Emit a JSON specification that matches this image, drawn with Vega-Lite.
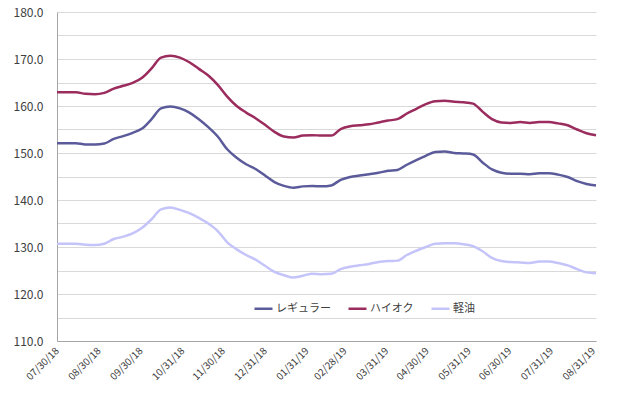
{
  "$schema": "https://vega.github.io/schema/vega-lite/v6.json",
  "width": 539,
  "height": 329,
  "autosize": "none",
  "padding": {"left": 57, "top": 12, "right": 44, "bottom": 74},
  "background": "white",
  "config": {
    "view": {"stroke": null},
    "font": "Noto Sans CJK JP",
    "axis": {"labelFont": "Noto Sans CJK JP", "labelColor": "#404040", "ticks": false, "gridColor": "#d9d9d9", "domainColor": "#a6a6a6"}
  },
  "data": {
    "values": [
      {"d": "2018-07-30", "レギュラー": 152.1, "ハイオク": 162.9, "軽油": 130.7},
      {"d": "2018-08-06", "レギュラー": 152.1, "ハイオク": 162.9, "軽油": 130.7},
      {"d": "2018-08-13", "レギュラー": 152.1, "ハイオク": 162.9, "軽油": 130.7},
      {"d": "2018-08-20", "レギュラー": 151.8, "ハイオク": 162.6, "軽油": 130.5},
      {"d": "2018-08-27", "レギュラー": 151.8, "ハイオク": 162.5, "軽油": 130.4},
      {"d": "2018-09-03", "レギュラー": 152.0, "ハイオク": 162.8, "軽油": 130.7},
      {"d": "2018-09-10", "レギュラー": 153.0, "ハイオク": 163.7, "軽油": 131.7},
      {"d": "2018-09-17", "レギュラー": 153.6, "ハイオク": 164.3, "軽油": 132.2},
      {"d": "2018-09-24", "レギュラー": 154.3, "ハイオク": 164.9, "軽油": 132.9},
      {"d": "2018-10-01", "レギュラー": 155.2, "ハイオク": 166.0, "軽油": 134.1},
      {"d": "2018-10-08", "レギュラー": 157.2, "ハイオク": 168.0, "軽油": 135.9},
      {"d": "2018-10-15", "レギュラー": 159.5, "ハイオク": 170.3, "軽油": 138.0},
      {"d": "2018-10-22", "レギュラー": 159.9, "ハイオク": 170.7, "軽油": 138.4},
      {"d": "2018-10-29", "レギュラー": 159.5, "ハイオク": 170.3, "軽油": 137.9},
      {"d": "2018-11-05", "レギュラー": 158.6, "ハイオク": 169.3, "軽油": 137.2},
      {"d": "2018-11-12", "レギュラー": 157.2, "ハイオク": 167.9, "軽油": 136.2},
      {"d": "2018-11-19", "レギュラー": 155.5, "ハイオク": 166.5, "軽油": 135.0},
      {"d": "2018-11-26", "レギュラー": 153.5, "ハイオク": 164.5, "軽油": 133.4},
      {"d": "2018-12-03", "レギュラー": 150.8, "ハイオク": 162.0, "軽油": 131.0},
      {"d": "2018-12-10", "レギュラー": 149.0, "ハイオク": 160.0, "軽油": 129.5},
      {"d": "2018-12-17", "レギュラー": 147.6, "ハイオク": 158.6, "軽油": 128.3},
      {"d": "2018-12-24", "レギュラー": 146.6, "ハイオク": 157.4, "軽油": 127.3},
      {"d": "2018-12-31", "レギュラー": 145.2, "ハイオク": 156.0, "軽油": 126.0},
      {"d": "2019-01-07", "レギュラー": 143.8, "ハイオク": 154.5, "軽油": 124.7},
      {"d": "2019-01-14", "レギュラー": 143.0, "ハイオク": 153.5, "軽油": 124.0},
      {"d": "2019-01-21", "レギュラー": 142.6, "ハイオク": 153.3, "軽油": 123.5},
      {"d": "2019-01-28", "レギュラー": 142.9, "ハイオク": 153.7, "軽油": 123.9},
      {"d": "2019-02-04", "レギュラー": 143.0, "ハイオク": 153.8, "軽油": 124.3},
      {"d": "2019-02-11", "レギュラー": 142.9, "ハイオク": 153.7, "軽油": 124.2},
      {"d": "2019-02-18", "レギュラー": 143.1, "ハイオク": 153.7, "軽油": 124.3},
      {"d": "2019-02-25", "レギュラー": 144.3, "ハイオク": 155.1, "軽油": 125.3},
      {"d": "2019-03-04", "レギュラー": 144.9, "ハイオク": 155.7, "軽油": 125.8},
      {"d": "2019-03-11", "レギュラー": 145.2, "ハイオク": 155.9, "軽油": 126.1},
      {"d": "2019-03-18", "レギュラー": 145.5, "ハイオク": 156.1, "軽油": 126.4},
      {"d": "2019-03-25", "レギュラー": 145.8, "ハイオク": 156.5, "軽油": 126.8},
      {"d": "2019-04-01", "レギュラー": 146.2, "ハイオク": 156.9, "軽油": 127.0},
      {"d": "2019-04-08", "レギュラー": 146.4, "ハイオク": 157.2, "軽油": 127.1},
      {"d": "2019-04-15", "レギュラー": 147.5, "ハイオク": 158.4, "軽油": 128.3},
      {"d": "2019-04-22", "レギュラー": 148.5, "ハイオク": 159.4, "軽油": 129.2},
      {"d": "2019-04-29", "レギュラー": 149.4, "ハイオク": 160.4, "軽油": 130.0},
      {"d": "2019-05-06", "レギュラー": 150.2, "ハイオク": 161.0, "軽油": 130.7},
      {"d": "2019-05-13", "レギュラー": 150.3, "ハイオク": 161.1, "軽油": 130.8},
      {"d": "2019-05-20", "レギュラー": 150.0, "ハイオク": 160.9, "軽油": 130.8},
      {"d": "2019-05-27", "レギュラー": 149.9, "ハイオク": 160.8, "軽油": 130.6},
      {"d": "2019-06-03", "レギュラー": 149.7, "ハイオク": 160.5, "軽油": 130.2},
      {"d": "2019-06-10", "レギュラー": 148.0, "ハイオク": 158.8, "軽油": 129.1},
      {"d": "2019-06-17", "レギュラー": 146.5, "ハイオク": 157.2, "軽油": 127.7},
      {"d": "2019-06-24", "レギュラー": 145.8, "ハイオク": 156.5, "軽油": 127.0},
      {"d": "2019-07-01", "レギュラー": 145.6, "ハイオク": 156.4, "軽油": 126.8},
      {"d": "2019-07-08", "レギュラー": 145.6, "ハイオク": 156.6, "軽油": 126.7},
      {"d": "2019-07-15", "レギュラー": 145.5, "ハイオク": 156.4, "軽油": 126.6},
      {"d": "2019-07-22", "レギュラー": 145.7, "ハイオク": 156.6, "軽油": 126.9},
      {"d": "2019-07-29", "レギュラー": 145.7, "ハイオク": 156.6, "軽油": 126.9},
      {"d": "2019-08-05", "レギュラー": 145.4, "ハイオク": 156.3, "軽油": 126.6},
      {"d": "2019-08-12", "レギュラー": 144.9, "ハイオク": 155.9, "軽油": 126.1},
      {"d": "2019-08-19", "レギュラー": 144.0, "ハイオク": 155.0, "軽油": 125.3},
      {"d": "2019-08-26", "レギュラー": 143.4, "ハイオク": 154.2, "軽油": 124.6},
      {"d": "2019-09-02", "レギュラー": 143.1, "ハイオク": 153.8, "軽油": 124.4}
    ]
  },
  "transform": [{"fold": ["レギュラー", "ハイオク", "軽油"], "as": ["type", "price"]}],
  "mark": {"type": "line", "strokeWidth": 2.5, "interpolate": "monotone"},
  "encoding": {
    "x": {
      "field": "d", "type": "temporal",
      "scale": {"type": "utc", "domain": [{"year": 2018, "month": 7, "date": 30, "utc": true}, {"year": 2019, "month": 9, "date": 2, "utc": true}], "nice": false},
      "axis": {
        "title": null, "grid": false,
        "labelExpr": "utcFormat(datum.value, '%m/%d/%y')",
        "labelAngle": -45, "labelFontSize": 10, "labelPadding": 8, "labelAlign": "right", "labelBaseline": "middle",
        "values": [
          {"year": 2018, "month": 7, "date": 30, "utc": true},
          {"year": 2018, "month": 8, "date": 30, "utc": true},
          {"year": 2018, "month": 9, "date": 30, "utc": true},
          {"year": 2018, "month": 10, "date": 31, "utc": true},
          {"year": 2018, "month": 11, "date": 30, "utc": true},
          {"year": 2018, "month": 12, "date": 31, "utc": true},
          {"year": 2019, "month": 1, "date": 31, "utc": true},
          {"year": 2019, "month": 2, "date": 28, "utc": true},
          {"year": 2019, "month": 3, "date": 31, "utc": true},
          {"year": 2019, "month": 4, "date": 30, "utc": true},
          {"year": 2019, "month": 5, "date": 31, "utc": true},
          {"year": 2019, "month": 6, "date": 30, "utc": true},
          {"year": 2019, "month": 7, "date": 31, "utc": true},
          {"year": 2019, "month": 8, "date": 31, "utc": true}
        ]
      }
    },
    "y": {
      "field": "price", "type": "quantitative",
      "scale": {"domain": [110, 180], "nice": false, "zero": false},
      "axis": {
        "title": null, "values": [110, 115, 120, 125, 130, 135, 140, 145, 150, 155, 160, 165, 170, 175, 180],
        "labelExpr": "datum.value % 10 == 0 ? format(datum.value, '.1f') : ''",
        "labelFontSize": 12, "labelPadding": 14, "gridColor": "#d9d9d9"
      }
    },
    "color": {
      "field": "type", "type": "nominal",
      "scale": {"domain": ["レギュラー", "ハイオク", "軽油"], "range": ["#5b5b9b", "#9b2c5e", "#c4c4fa"]},
      "legend": {
        "title": null, "orient": "none", "direction": "horizontal", "legendX": 196, "legendY": 286,
        "symbolType": "stroke", "symbolSize": 324, "symbolStrokeWidth": 2.5, "labelFontSize": 11,
        "labelColor": "#404040", "labelFont": "Noto Sans CJK JP", "columnPadding": 12, "labelOffset": 2, "padding": 0
      }
    }
  }
}
